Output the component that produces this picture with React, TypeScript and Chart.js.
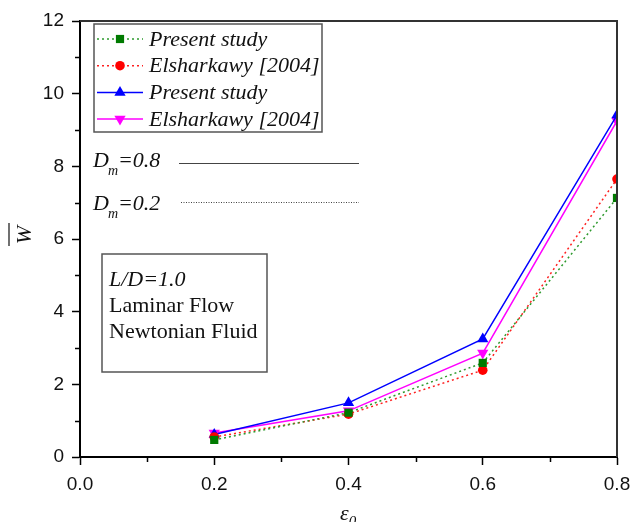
import React, { useEffect, useRef } from "react";
import { Chart, registerables } from "chart.js";

Chart.register(...registerables);

const eccentricity = [0.2, 0.4, 0.6, 0.8];
const presentDm02 = [0.47, 1.22, 2.59, 7.13];
const elsharkawyDm02 = [0.55, 1.18, 2.39, 7.65];
const presentDm08 = [0.62, 1.49, 3.25, 9.41];
const elsharkawyDm08 = [0.66, 1.27, 2.86, 9.25];
const seriesLabels = ["Present study", "Elsharkawy [2004]", "Present study", "Elsharkawy [2004]"];
const xTicks = [0, 0.2, 0.4, 0.6, 0.8];
const xMinorTicks = [0.1, 0.3, 0.5, 0.7];
const yTicks = [0, 2, 4, 6, 8, 10, 12];
const yMinorTicks = [1, 3, 5, 7, 9, 11];
const infoLines = ["L/D=1.0", "Laminar Flow", "Newtonian Fluid"];

const SERIF = "'Liberation Serif', 'Times New Roman', serif";
const SANS = "'Liberation Sans', Arial, sans-serif";

function drawMarker(ctx: CanvasRenderingContext2D, style: string, x: number, y: number, r: number, rot: number, color: string) {
  ctx.save();
  ctx.fillStyle = color;
  ctx.beginPath();
  if (style === "rect") {
    const s = r * Math.SQRT1_2;
    ctx.rect(x - s, y - s, 2 * s, 2 * s);
  } else if (style === "circle") {
    ctx.arc(x, y, r, 0, Math.PI * 2);
  } else {
    let rad = (rot * Math.PI) / 180;
    ctx.moveTo(x + Math.sin(rad) * r, y - Math.cos(rad) * r);
    rad += (2 * Math.PI) / 3;
    ctx.lineTo(x + Math.sin(rad) * r, y - Math.cos(rad) * r);
    rad += (2 * Math.PI) / 3;
    ctx.lineTo(x + Math.sin(rad) * r, y - Math.cos(rad) * r);
    ctx.closePath();
  }
  ctx.fill();
  ctx.restore();
}

const decorPlugin = {
  id: "decor",
  afterDraw(chart: any) {
    const ctx: CanvasRenderingContext2D = chart.ctx;
    const area = chart.chartArea;
    const xs = chart.scales.x;
    const ys = chart.scales.y;
    ctx.save();
    // frame top/right
    ctx.strokeStyle = "#333";
    ctx.lineWidth = 2;
    ctx.beginPath();
    ctx.moveTo(area.left, area.top);
    ctx.lineTo(area.right, area.top);
    ctx.lineTo(area.right, area.bottom);
    ctx.stroke();
    // minor ticks
    ctx.strokeStyle = "#000";
    ctx.lineWidth = 1.5;
    ctx.beginPath();
    xMinorTicks.forEach((v) => {
      const px = Math.round(xs.getPixelForValue(v)) + 0.5;
      ctx.moveTo(px, area.bottom);
      ctx.lineTo(px, area.bottom + 5);
    });
    yMinorTicks.forEach((v) => {
      const py = Math.round(ys.getPixelForValue(v)) + 0.5;
      ctx.moveTo(area.left, py);
      ctx.lineTo(area.left - 5, py);
    });
    ctx.stroke();

    // legend box
    ctx.strokeStyle = "#555";
    ctx.lineWidth = 1.5;
    ctx.strokeRect(94, 24, 228, 108);
    chart.data.datasets.forEach((ds: any, i: number) => {
      const ry = 39 + i * 26.7;
      ctx.save();
      ctx.strokeStyle = ds.borderColor;
      ctx.lineWidth = ds.borderWidth;
      ctx.setLineDash(ds.borderDash || []);
      ctx.beginPath();
      ctx.moveTo(97, ry);
      ctx.lineTo(143, ry);
      ctx.stroke();
      ctx.restore();
      drawMarker(ctx, ds.pointStyle, 120, ry, ds.pointRadius, ds.pointRotation || 0, ds.pointBackgroundColor);
      ctx.fillStyle = "#111";
      ctx.font = "italic 22px " + SERIF;
      ctx.textBaseline = "middle";
      ctx.textAlign = "left";
      ctx.fillText(seriesLabels[i], 149, ry + 1);
    });

    // Dm annotations
    const drawDm = (val: string, y: number) => {
      ctx.fillStyle = "#111";
      ctx.textBaseline = "alphabetic";
      ctx.textAlign = "left";
      ctx.font = "italic 22px " + SERIF;
      ctx.fillText("D", 93, y);
      const w = ctx.measureText("D").width;
      ctx.font = "italic 14px " + SERIF;
      ctx.fillText("m", 93 + w - 1, y + 8);
      const wm = ctx.measureText("m").width;
      ctx.font = "italic 22px " + SERIF;
      ctx.fillText("=" + val, 93 + w + wm - 1, y);
    };
    drawDm("0.8", 167);
    drawDm("0.2", 210);
    ctx.strokeStyle = "#444";
    ctx.lineWidth = 1;
    ctx.beginPath();
    ctx.moveTo(179, 163.5);
    ctx.lineTo(359, 163.5);
    ctx.stroke();
    ctx.setLineDash([1, 1.5]);
    ctx.beginPath();
    ctx.moveTo(181, 202.5);
    ctx.lineTo(359, 202.5);
    ctx.stroke();
    ctx.setLineDash([]);

    // info box
    ctx.strokeStyle = "#555";
    ctx.lineWidth = 1.5;
    ctx.strokeRect(102, 254, 165, 118);
    ctx.fillStyle = "#111";
    ctx.textBaseline = "middle";
    infoLines.forEach((t, i) => {
      ctx.font = (i === 0 ? "italic " : "") + "22px " + SERIF;
      ctx.fillText(t, 109, 280 + i * 26);
    });

    // y axis title (W with overbar)
    ctx.save();
    ctx.translate(25, 235);
    ctx.rotate(-Math.PI / 2);
    ctx.font = "italic 22px " + SERIF;
    ctx.textAlign = "center";
    ctx.textBaseline = "middle";
    ctx.fillStyle = "#111";
    ctx.fillText("W", 0, 0);
    ctx.strokeStyle = "#111";
    ctx.lineWidth = 1.2;
    ctx.beginPath();
    ctx.moveTo(-11, -16);
    ctx.lineTo(12, -16);
    ctx.stroke();
    ctx.restore();

    // x axis title (epsilon_0)
    ctx.font = "italic 22px " + SERIF;
    ctx.textAlign = "left";
    ctx.textBaseline = "alphabetic";
    ctx.fillText("\u03b5", 340, 520);
    const we = ctx.measureText("\u03b5").width;
    ctx.font = "italic 15px " + SERIF;
    ctx.fillText("0", 340 + we, 526);
    ctx.restore();
  },
};

export default function App() {
  const ref = useRef<HTMLCanvasElement | null>(null);
  useEffect(() => {
    document.body.style.margin = "0";
    const mk = (arr: number[]) => eccentricity.map((x, i) => ({ x, y: arr[i] }));
    const chart = new Chart(ref.current as HTMLCanvasElement, {
      type: "line",
      data: {
        datasets: [
          {
            data: mk(presentDm02),
            borderColor: "#2e9a2e",
            borderWidth: 1.5,
            borderDash: [2, 3],
            pointStyle: "rect",
            pointRadius: 5.8,
            pointBackgroundColor: "#007a00",
            pointBorderColor: "#007a00",
            pointBorderWidth: 0,
          },
          {
            data: mk(elsharkawyDm02),
            borderColor: "#ff2020",
            borderWidth: 1.5,
            borderDash: [2, 3],
            pointStyle: "circle",
            pointRadius: 4.8,
            pointBackgroundColor: "#ff0000",
            pointBorderColor: "#ff0000",
            pointBorderWidth: 0,
          },
          {
            data: mk(presentDm08),
            borderColor: "#0000ff",
            borderWidth: 1.5,
            pointStyle: "triangle",
            pointRadius: 6.5,
            pointBackgroundColor: "#0000ff",
            pointBorderColor: "#0000ff",
            pointBorderWidth: 0,
          },
          {
            data: mk(elsharkawyDm08),
            borderColor: "#ff00ff",
            borderWidth: 1.5,
            pointStyle: "triangle",
            pointRotation: 180,
            pointRadius: 6.5,
            pointBackgroundColor: "#ff00ff",
            pointBorderColor: "#ff00ff",
            pointBorderWidth: 0,
          },
        ] as any,
      },
      options: {
        animation: false,
        responsive: false,
        devicePixelRatio: 1,
        layout: { padding: { top: 21, right: 16, left: 0, bottom: 0 } },
        plugins: { legend: { display: false }, tooltip: { enabled: false } },
        scales: {
          x: {
            type: "linear",
            min: 0,
            max: 0.8,
            afterBuildTicks: (s: any) => {
              s.ticks = xTicks.map((v) => ({ value: v }));
            },
            afterFit: (s: any) => {
              s.height = 65;
              s.paddingLeft = 0;
              s.paddingRight = 0;
            },
            ticks: {
              font: { family: SANS, size: 19 },
              color: "#111",
              padding: 8,
              maxRotation: 0,
              callback: (v: any) => Number(v).toFixed(1),
            },
            grid: { drawOnChartArea: false, tickLength: 8, tickColor: "#000", tickWidth: 1.5 },
            border: { display: true, color: "#000", width: 2 },
          },
          y: {
            type: "linear",
            min: 0,
            max: 12,
            afterBuildTicks: (s: any) => {
              s.ticks = yTicks.map((v) => ({ value: v }));
            },
            afterFit: (s: any) => {
              s.width = 80;
              s.paddingTop = 0;
              s.paddingBottom = 0;
            },
            ticks: {
              font: { family: SANS, size: 19 },
              color: "#111",
              padding: 8,
              callback: (v: any) => String(v),
            },
            grid: { drawOnChartArea: false, tickLength: 8, tickColor: "#000", tickWidth: 1.5 },
            border: { display: true, color: "#000", width: 2 },
          },
        },
      },
      plugins: [decorPlugin],
    });
    return () => chart.destroy();
  }, []);
  return (
    <div style={{ position: "absolute", left: 0, top: 0, width: 633, height: 522, background: "#fff" }}>
      <canvas ref={ref} width={633} height={522} />
    </div>
  );
}
